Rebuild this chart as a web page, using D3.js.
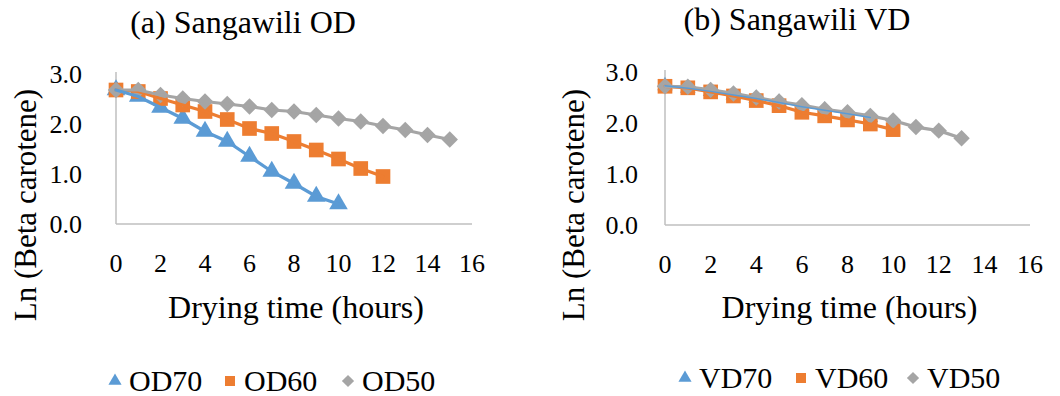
<!DOCTYPE html>
<html>
<head>
<meta charset="utf-8">
<script src="https://cdn.jsdelivr.net/npm/d3@7"></script>
<style>
  body { margin: 0; background: #fff; }
  svg { display: block; }
</style>
</head>
<body>
<svg id="chart"></svg>
<script>
// drying time (hours)
const hoursOD70 = [0, 1, 2, 3, 4, 5, 6, 7, 8, 9, 10]
const hoursOD60 = [0, 1, 2, 3, 4, 5, 6, 7, 8, 9, 10, 11, 12]
const hoursOD50 = [0, 1, 2, 3, 4, 5, 6, 7, 8, 9, 10, 11, 12, 13, 14, 15]
const hoursVD70 = [0, 1, 2, 3, 4, 5, 6, 7, 8, 9]
const hoursVD60 = [0, 1, 2, 3, 4, 5, 6, 7, 8, 9, 10]
const hoursVD50 = [0, 1, 2, 3, 4, 5, 6, 7, 8, 9, 10, 11, 12, 13]

// Ln (beta carotene)
const od70 = [2.68, 2.55, 2.33, 2.11, 1.85, 1.65, 1.35, 1.05, 0.81, 0.55, 0.40]
const od60 = [2.68, 2.65, 2.51, 2.38, 2.25, 2.09, 1.91, 1.81, 1.65, 1.48, 1.30, 1.11, 0.95]
const od50 = [2.68, 2.68, 2.58, 2.51, 2.45, 2.40, 2.35, 2.28, 2.25, 2.18, 2.11, 2.05, 1.96, 1.88, 1.78, 1.69]
const vd70 = [2.73, 2.68, 2.62, 2.55, 2.48, 2.40, 2.32, 2.25, 2.18, 2.11]
const vd60 = [2.72, 2.69, 2.61, 2.53, 2.44, 2.34, 2.21, 2.14, 2.06, 1.98, 1.87]
const vd50 = [2.72, 2.71, 2.65, 2.58, 2.50, 2.42, 2.35, 2.27, 2.21, 2.14, 2.05, 1.92, 1.85, 1.70]

const xTicks = [0, 2, 4, 6, 8, 10, 12, 14, 16]
const yTicks = [0, 1, 2, 3]

const blue = "#5b9bd5", orange = "#ed7d31", grey = "#a5a5a5", axisCol = "#bfbfbf"
const font = "'Liberation Serif', 'Times New Roman', serif"

const svg = d3.select("#chart").attr("width", 1060).attr("height", 396)
              .attr("font-family", font)

function zip(xs, ys) { return xs.map((x, i) => [x, ys[i]]) }

// excel-like diamond: square turned 45 degrees
const diamond = {
	draw(ctx, size) {
		const r = Math.sqrt(size) / 2 * Math.SQRT2
		ctx.moveTo(0, -r); ctx.lineTo(r, 0); ctx.lineTo(0, r); ctx.lineTo(-r, 0); ctx.closePath()
	}
}

function panel(p) {
	const x = d3.scaleLinear([0, 16], [p.left, p.right])
	const y = d3.scaleLinear([0, 3], [p.bottom, p.top])
	const g = svg.append("g")

	g.append("line").attr("x1", p.left).attr("x2", p.right).attr("y1", p.bottom).attr("y2", p.bottom)
	 .attr("stroke", axisCol).attr("stroke-width", 1.5)
	g.append("line").attr("x1", p.left).attr("x2", p.left).attr("y1", p.bottom).attr("y2", p.top - 2)
	 .attr("stroke", axisCol).attr("stroke-width", 1.5)

	g.selectAll(".xt").data(xTicks).join("text")
	 .attr("x", d => x(d)).attr("y", p.bottom + 48)
	 .attr("text-anchor", "middle").attr("font-size", 26).text(d => d)
	g.selectAll(".yt").data(yTicks).join("text")
	 .attr("x", p.yLabelEnd).attr("y", d => y(d) + 9)
	 .attr("text-anchor", "end").attr("font-size", 26).text(d => d3.format(".1f")(d))

	g.append("text").attr("x", p.titleX).attr("y", p.titleY)
	 .attr("text-anchor", "middle").attr("font-size", 32).text(p.title)
	g.append("text").attr("x", (p.left + p.right) / 2 + 2).attr("y", 318)
	 .attr("text-anchor", "middle").attr("font-size", 32).text("Drying time (hours)")
	g.append("text").attr("transform", `translate(${p.yTitleX},205) rotate(-90)`)
	 .attr("text-anchor", "middle").attr("font-size", 31).text("Ln (Beta carotene)")

	const line = d3.line(d => x(d[0]), d => y(d[1]))
	const shapes = [d3.symbolTriangle, d3.symbolSquare, diamond]

	p.series.forEach((s, i) => {
		g.append("g").selectAll("path").data(zip(s.hours, s.values)).join("path")
		 .attr("transform", d => `translate(${x(d[0])},${y(d[1])})`)
		 .attr("d", d3.symbol(shapes[i], p.sizes[i])())
		 .attr("fill", s.color)
	})
	// trend lines on top of the markers
	;[1, 2, 0].forEach(i => {
		const s = p.series[i]
		g.append("path").datum(zip(s.hours, s.values))
		 .attr("fill", "none").attr("stroke", s.color)
		 .attr("stroke-width", s.thin ? 1.5 : 3.2).attr("stroke-linecap", "round")
		 .attr("d", line)
	})

	// legend
	const lg = g.append("g")
	p.series.forEach((s, i) => {
		const lx = p.legendX[i]
		lg.append("path").attr("transform", `translate(${lx},${p.legendY - 10})`)
		  .attr("d", d3.symbol(shapes[i], i == 1 ? 100 : 75)()).attr("fill", s.color)
		lg.append("text").attr("x", lx + 14).attr("y", p.legendY)
		  .attr("font-size", 30).text(s.name)
	})
}

panel({
	left: 116, right: 472, top: 74, bottom: 224,
	yLabelEnd: 82, yTitleX: 36,
	title: "(a) Sangawili OD", titleX: 243, titleY: 33,
	legendX: [115, 230, 348], legendY: 391,
	sizes: [150, 215, 135],
	series: [
		{ name: "OD70", hours: hoursOD70, values: od70, color: blue },
		{ name: "OD60", hours: hoursOD60, values: od60, color: orange },
		{ name: "OD50", hours: hoursOD50, values: od50, color: grey }
	]
})

panel({
	left: 665, right: 1030, top: 72, bottom: 225,
	yLabelEnd: 638, yTitleX: 584,
	title: "(b) Sangawili VD", titleX: 797, titleY: 30,
	legendX: [685, 801, 913], legendY: 388,
	sizes: [105, 215, 135],
	series: [
		{ name: "VD70", hours: hoursVD70, values: vd70, color: blue, thin: true },
		{ name: "VD60", hours: hoursVD60, values: vd60, color: orange },
		{ name: "VD50", hours: hoursVD50, values: vd50, color: grey }
	]
})
</script>
</body>
</html>
